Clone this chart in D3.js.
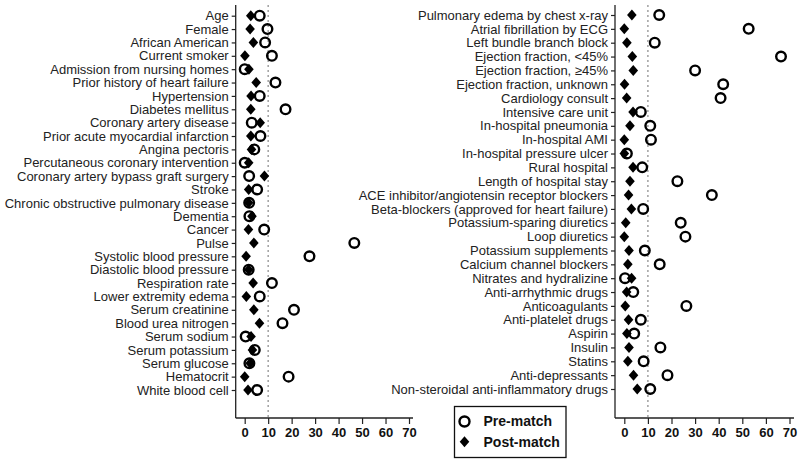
<!DOCTYPE html>
<html><head><meta charset="utf-8">
<script src="https://cdn.jsdelivr.net/npm/d3@7"></script>
<style>body{margin:0;background:#fff}svg{display:block}</style>
</head><body>
<svg id="chart" width="800" height="463"></svg>
<script>
const leftCategories = ["Age","Female","African American","Current smoker","Admission from nursing homes","Prior history of heart failure","Hypertension","Diabetes mellitus","Coronary artery disease","Prior acute myocardial infarction","Angina pectoris","Percutaneous coronary intervention","Coronary artery bypass graft surgery","Stroke","Chronic obstructive pulmonary disease","Dementia","Cancer","Pulse","Systolic blood pressure","Diastolic blood pressure","Respiration rate","Lower extremity edema","Serum creatinine","Blood urea nitrogen","Serum sodium","Serum potassium","Serum glucose","Hematocrit","White blood cell"];
const leftPre  = [6.4,9.7,8.7,11.6,0,13.1,6.4,17.4,3.0,6.7,4.1,0,1.9,5.3,1.9,2.0,8.3,46.7,27.6,1.7,11.6,6.4,21.0,16.1,0.4,4.3,2.0,18.7,5.3];
const leftPost = [2.6,2.3,3.7,0.1,1.8,4.9,2.7,2.6,6.6,2.6,2.9,1.7,8.4,1.7,1.7,3.1,1.6,3.9,0.6,1.7,3.6,0.7,3.9,6.3,2.7,3.3,2.3,0.0,1.4];

const rightCategories = ["Pulmonary edema by chest x-ray","Atrial fibrillation by ECG","Left bundle branch block","Ejection fraction, <45%","Ejection fraction, \u226545%","Ejection fraction, unknown","Cardiology consult","Intensive care unit","In-hospital pneumonia","In-hospital AMI","In-hospital pressure ulcer","Rural hospital","Length of hospital stay","ACE inhibitor/angiotensin receptor blockers","Beta-blockers (approved for heart failure)","Potassium-sparing diuretics","Loop diuretics","Potassium supplements","Calcium channel blockers","Nitrates and hydralizine","Anti-arrhythmic drugs","Anticoagulants","Anti-platelet drugs","Aspirin","Insulin","Statins","Anti-depressants","Non-steroidal anti-inflammatory drugs"];
const rightPre  = [14.8,52.7,12.9,66.4,30.0,41.9,40.8,7.0,11.0,11.3,1.1,7.6,22.5,37.1,8.0,23.9,25.9,8.7,15.0,0.3,3.8,26.3,7.0,4.2,15.3,8.2,18.3,11.0];
const rightPost = [3.2,0.0,1.1,3.4,3.8,0.1,1.0,3.7,2.4,0.0,0.0,3.7,2.4,1.8,3.0,0.6,0.0,2.0,1.5,3.1,1.0,0.4,1.8,1.1,2.0,1.5,3.9,5.5];

const xTicks = [0,10,20,30,40,50,60,70];
const refLine = 10;
const legendLabels = ["Pre-match","Post-match"];

const svg = d3.select("#chart");
const FONT = "'Liberation Sans', Arial, sans-serif";
const diamond = (cx, cy) => `M${cx},${cy-5.5}L${cx+4.8},${cy}L${cx},${cy+5.5}L${cx-4.8},${cy}Z`;

function panel(cats, pre, post, o) {
  const g = svg.append("g");
  const x = d3.scaleLinear().domain([0,70]).range([o.x0, o.x70]);
  const y = d3.scalePoint().domain(cats).range([o.yTop, o.yBot]);
  const axisY = 418;
  g.append("line").attr("x1", x(refLine)).attr("x2", x(refLine))
    .attr("y1", 5).attr("y2", axisY)
    .attr("stroke", "#9a9a9a").attr("stroke-width", 1.4).attr("stroke-dasharray", "2,3");
  const ya = g.append("g").attr("transform", `translate(${o.axisX},0)`)
    .call(d3.axisLeft(y).tickSize(4).tickPadding(3));
  ya.select(".domain").attr("d", `M-0,5V${axisY}`).attr("stroke", "#222").attr("stroke-width", 1.3);
  ya.selectAll(".tick line").attr("stroke", "#222").attr("stroke-width", 1.2);
  ya.selectAll("text").attr("font-family", FONT).attr("font-size", 13).attr("fill", "#222");
  const xa = g.append("g").attr("transform", `translate(0,${axisY})`)
    .call(d3.axisBottom(x).tickValues(xTicks).tickSize(6).tickPadding(4));
  xa.select(".domain").attr("d", `M${o.axisX},0H${o.xEnd}`).attr("stroke", "#222").attr("stroke-width", 1.3);
  xa.selectAll(".tick line").attr("stroke", "#222").attr("stroke-width", 1.2);
  xa.selectAll("text").attr("font-family", FONT).attr("font-size", 13).attr("font-weight", "bold").attr("fill", "#111");
  g.selectAll("path.post").data(cats).join("path").attr("class", "post")
    .attr("d", (d,i) => diamond(x(post[i]), y(d))).attr("fill", "#000");
  g.selectAll("circle.pre").data(cats).join("circle").attr("class", "pre")
    .attr("cx", (d,i) => x(pre[i])).attr("cy", d => y(d)).attr("r", 4.8)
    .attr("fill", "none").attr("stroke", "#000").attr("stroke-width", 2.4);
}

panel(leftCategories, leftPre, leftPost, {x0:244.7, x70:409, axisX:235.7, xEnd:413, yTop:15.7, yBot:390});
panel(rightCategories, rightPre, rightPost, {x0:624.3, x70:789.5, axisX:615, xEnd:794, yTop:15, yBot:389});

const lg = svg.append("g");
lg.append("rect").attr("x", 454.5).attr("y", 406.5).attr("width", 111.5).attr("height", 51)
  .attr("fill", "#fff").attr("stroke", "#111").attr("stroke-width", 1.3);
lg.append("circle").attr("cx", 464.5).attr("cy", 421.5).attr("r", 5).attr("fill", "none")
  .attr("stroke", "#000").attr("stroke-width", 2.4);
lg.append("path").attr("d", diamond(464.5, 441.8)).attr("fill", "#000");
lg.selectAll("text").data(legendLabels).join("text")
  .attr("x", 483.5).attr("y", (d,i) => 421.5 + i*20.3).attr("dy", "0.35em")
  .attr("font-family", FONT).attr("font-size", 14).attr("font-weight", "bold").attr("fill", "#111")
  .text(d => d);
</script>
</body></html>
